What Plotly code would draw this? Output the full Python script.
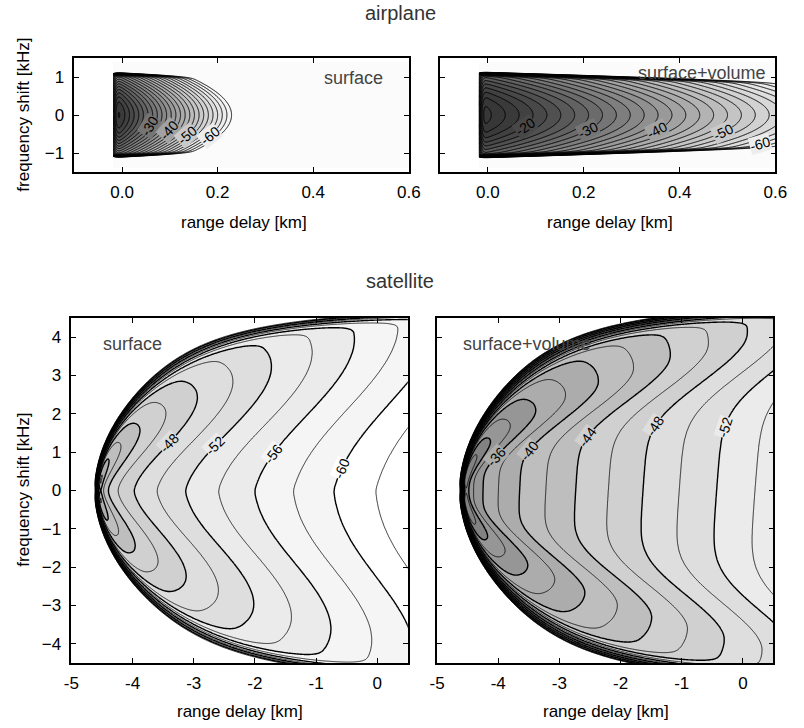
import math
import numpy as np
import plotly.graph_objects as go

# ---------------------------------------------------------------- axes
AIR_DELAY_RANGE = [-0.1, 0.6]
AIR_FREQ_RANGE = [-1.5, 1.5]
AIR_DELAY_TICKS = [0.0, 0.2, 0.4, 0.6]
AIR_FREQ_TICKS = [-1, 0, 1]

SAT_DELAY_RANGE = [-5.0, 0.5]
SAT_FREQ_RANGE = [-4.5, 4.5]
SAT_DELAY_TICKS = [-5, -4, -3, -2, -1, 0]
SAT_FREQ_TICKS = [-4, -3, -2, -1, 0, 1, 2, 3, 4]

# ---------------------------------------------------------------- contour levels (dB): start, end, step
AIR_LINE_LEVELS = [-64, -12, 2]
AIR_FILL_LEVELS = [-64, -16, 2]
SAT_THIN_LEVELS = [-70, -30, 4]
SAT_THICK_LEVELS = [-68, -32, 4]
SAT_FILL_LEVELS = [-60, -32, 4]

# labelled contours and the Doppler row each label sits on
AIR_SURF_LABELS = [-30, -40, -50, -60]
AIR_SURF_LABEL_F = [-0.28, -0.40, -0.53, -0.55]
AIR_SV_LABELS = [-20, -30, -40, -50, -60]
AIR_SV_LABEL_F = [-0.30, -0.40, -0.40, -0.45, -0.75]
SAT_SURF_LABELS = [-48, -52, -56, -60]
SAT_SURF_LABEL_F = [1.25, 1.15, 0.94, 0.55]
SAT_SV_LABELS = [-36, -40, -44, -48, -52]
SAT_SV_LABEL_F = [0.89, 1.02, 1.40, 1.66, 1.63]

# ---------------------------------------------------------------- scattering model parameters
# airplane: dB = C - alpha*r - beta*f^2 + pulse rise + Doppler window (edge narrowing with delay)
AIR_SURF = dict(C=-16.8, alpha=206.0, beta=18.0, r_start=-0.019, r_e=-0.012, sig_e=0.006,
                f_w=1.04, f_slope=0.30, sig_w=0.035)
AIR_SV = dict(C=-13.5, alpha=69.0, beta=13.0, r_start=-0.019, r_e=-0.012, sig_e=0.006,
              f_w=1.04, f_slope=0.30, sig_w=0.035)
# satellite: dB = C - kappa*u - 5 log10(u) + ridge(t) + footprint edge(t, f), t = |f| / sqrt(u)
SAT_SURF = dict(C=-48.1, r0=-4.55, kappa=2.4, gamma=0.15, b_max=4.65, t_peak=1.89,
                s_in=0.77, s_out=0.8, t_edge=2.8, w_edge=0.18, f_lim_top=5.0, f_lim_bot=5.35,
                n_lim=7, sig_f=0.08, sig_r=0.02)
SAT_SV = dict(C=-37.8, r0=-4.55, kappa=2.7, gamma=0.15, b_max=5.0, t_peak=1.89,
              s_in=0.42, s_out=0.8, t_edge=2.8, w_edge=0.18, f_lim_top=5.1, f_lim_bot=5.35,
              n_lim=7, sig_f=0.08, sig_r=0.02)

# ---------------------------------------------------------------- styles
FONT = "Liberation Sans, Arial, Helvetica, sans-serif"
W, H = 804, 728
# panel frames in pixels: left, right, top, bottom
BOX = {
    "air_surf": (68, 411, 58, 172),
    "air_sv": (443, 787, 58, 172),
    "sat_surf": (65, 410, 318, 663),
    "sat_sv": (440, 785, 318, 663),
}

_erfc = np.vectorize(math.erfc)


def gauss_matrix(x, sigma):
    d = (x[:, None] - x[None, :]) / sigma
    k = np.exp(-0.5 * d * d)
    return k / k.sum(axis=1, keepdims=True)


def airplane_field(p):
    r = np.arange(p["r_start"], 0.62 + 1e-9, 0.0015)
    f = np.arange(-1.4, 1.4 + 1e-9, 0.008)
    R = r[None, :]
    F = f[:, None]
    lead = 0.5 * _erfc(-(R - p["r_e"]) / p["sig_e"])
    edge_f = p["f_w"] - p["f_slope"] * np.maximum(R, 0)
    win = 0.5 * _erfc((np.abs(F) - edge_f) / p["sig_w"])
    lin = lead * win * 10 ** ((-p["alpha"] * R - p["beta"] * F ** 2) / 10)
    P = p["C"] + 10 * np.log10(lin + 1e-16)
    return r, f, np.round(P, 2)


def satellite_field(p):
    h = 0.01
    f = np.arange(-6.5, 6.5 + 1e-9, h)
    r = np.arange(-5.6, 1.2 + 1e-9, h)
    U = (r - p["r0"])[None, :]
    F = f[:, None] + 0 * U
    pos = U > 0
    Us = np.where(pos, U, 1.0) + 0 * F
    t = np.abs(F) / np.sqrt(Us)
    d = t - p["t_peak"]
    s = np.where(d < 0, p["s_in"], p["s_out"])
    ridge = p["b_max"] * np.exp(-0.5 * (d / s) ** 2)
    f_lim = np.where(F > 0, p["f_lim_top"], p["f_lim_bot"])
    shrink = np.sqrt(np.clip(1 - (np.abs(F) / f_lim) ** p["n_lim"], 0, 1))
    width = p["w_edge"] * np.maximum(shrink, 0.05) ** 2
    edge = 0.5 * _erfc((t - p["t_edge"] * shrink) / width)
    db = -p["kappa"] * Us + p["gamma"] * F - 5 * np.log10(Us) + ridge
    lin = np.where(pos, 10 ** (db / 10) * edge, 0.0)
    lin = gauss_matrix(f, p["sig_f"]) @ lin
    lin = lin @ gauss_matrix(r, p["sig_r"]).T
    P = p["C"] + 10 * np.log10(lin + 1e-16)
    fi = np.arange(190, 1111, 4)
    ri = np.arange(54, 617, 2)
    return r[ri], f[fi], np.round(P[np.ix_(fi, ri)], 2)


def gray(v):
    v = int(round(v))
    return f"rgb({v},{v},{v})"


def fill_scale(levels, gray_of_band):
    start, end, step = levels
    nc = int(round((end - start) / step)) + 1
    vals = [start - step / 2 + k * step for k in range(nc + 1)]
    return [[k / nc, gray(gray_of_band(v))] for k, v in enumerate(vals)]


def air_gray(v):
    pts = [(-66, 255), (-62, 240), (-56, 220), (-48, 192), (-40, 158), (-30, 112), (-22, 75), (-16, 55)]
    return float(np.interp(v, [q[0] for q in pts], [q[1] for q in pts]))


def sat_gray(v):
    pts = [(-62, 255), (-58, 245), (-54, 235), (-50, 222), (-46, 208), (-42, 190),
           (-38, 172), (-34, 150), (-30, 130)]
    return float(np.interp(v, [q[0] for q in pts], [q[1] for q in pts]))


def fill_trace(x, y, z, ax, levels, gfun):
    start, end, step = levels
    return go.Contour(
        x=x, y=y, z=z, xaxis="x" + ax, yaxis="y" + ax,
        autocontour=False,
        contours=dict(start=start, end=end, size=step, coloring="fill", showlines=False),
        colorscale=fill_scale(levels, gfun), showscale=False,
        line=dict(width=0, smoothing=0.6), hoverinfo="skip",
    )


def line_trace(x, y, z, ax, levels, width):
    start, end, step = levels
    return go.Contour(
        x=x, y=y, z=z, xaxis="x" + ax, yaxis="y" + ax,
        autocontour=False,
        contours=dict(start=start, end=end, size=step, coloring="none", showlines=True),
        line=dict(width=width, color="black", smoothing=0.6),
        showscale=False, hoverinfo="skip",
    )


def label_annotations(r, f, P, ax, box, xr, yr, levels, rows, bgfun, step):
    sx = (box[1] - box[0]) / (xr[1] - xr[0])
    sy = (box[3] - box[2]) / (yr[1] - yr[0])
    dPdf, dPdr = np.gradient(P, f, r)
    out = []
    for lev, fa in zip(levels, rows):
        j = int(np.argmin(np.abs(f - fa)))
        row = P[j]
        k0 = int(np.argmax(row))
        pos = None
        for k in range(k0, len(row) - 1):
            if row[k] >= lev > row[k + 1]:
                t = (row[k] - lev) / (row[k] - row[k + 1])
                pos = (k, r[k] + t * (r[k + 1] - r[k]))
                break
        if pos is None:
            continue
        k, rx = pos
        gx = dPdr[j, k] / sx
        gy = -dPdf[j, k] / sy
        ang = math.degrees(math.atan2(gx, -gy))
        while ang > 90:
            ang -= 180
        while ang <= -90:
            ang += 180
        out.append(dict(
            x=rx, y=f[j], xref="x" + ax, yref="y" + ax, text=str(lev),
            showarrow=False, textangle=ang, bgcolor=gray(bgfun(lev - step / 2)),
            borderpad=0, font=dict(family=FONT, size=14, color="black"),
        ))
    return out


fig = go.Figure()
annotations = []

panels = [
    ("1", "air_surf", airplane_field(AIR_SURF), AIR_DELAY_RANGE, AIR_FREQ_RANGE, AIR_SURF_LABELS, AIR_SURF_LABEL_F),
    ("2", "air_sv", airplane_field(AIR_SV), AIR_DELAY_RANGE, AIR_FREQ_RANGE, AIR_SV_LABELS, AIR_SV_LABEL_F),
    ("3", "sat_surf", satellite_field(SAT_SURF), SAT_DELAY_RANGE, SAT_FREQ_RANGE, SAT_SURF_LABELS, SAT_SURF_LABEL_F),
    ("4", "sat_sv", satellite_field(SAT_SV), SAT_DELAY_RANGE, SAT_FREQ_RANGE, SAT_SV_LABELS, SAT_SV_LABEL_F),
]

for ax, key, (r, f, P), xr, yr, labs, labf in panels:
    box = BOX[key]
    if key.startswith("air"):
        fig.add_trace(fill_trace(r, f, P, ax, AIR_FILL_LEVELS, air_gray))
        fig.add_trace(line_trace(r, f, P, ax, AIR_LINE_LEVELS, 1.0))
        annotations += label_annotations(r, f, P, ax, box, xr, yr, labs, labf, air_gray, 2)
    else:
        fig.add_trace(fill_trace(r, f, P, ax, SAT_FILL_LEVELS, sat_gray))
        fig.add_trace(line_trace(r, f, P, ax, SAT_THIN_LEVELS, 0.8))
        fig.add_trace(line_trace(r, f, P, ax, SAT_THICK_LEVELS, 1.4))
        annotations += label_annotations(r, f, P, ax, box, xr, yr, labs, labf, sat_gray, 4)

axis_common = dict(
    showline=True, linecolor="black", linewidth=1.5, mirror="ticks",
    ticks="inside", ticklen=5, tickwidth=1.3, tickcolor="black",
    showgrid=False, zeroline=False,
    tickfont=dict(family=FONT, size=17, color="black"),
)

layout_axes = {}
for ax, key, _, xr, yr, _, _ in panels:
    l, rgt, t, b = BOX[key]
    air = key.startswith("air")
    xname = "xaxis" if ax == "1" else "xaxis" + ax
    yname = "yaxis" if ax == "1" else "yaxis" + ax
    layout_axes[xname] = dict(
        axis_common, domain=[l / W, rgt / W], range=xr, anchor="y" + ax,
        tickvals=AIR_DELAY_TICKS if air else SAT_DELAY_TICKS,
        ticktext=[f"{v:.1f}" for v in AIR_DELAY_TICKS] if air else [str(v) for v in SAT_DELAY_TICKS],
        ticklabelstandoff=4,
    )
    layout_axes[yname] = dict(
        axis_common, domain=[1 - b / H, 1 - t / H], range=yr, anchor="x" + ax,
        tickvals=AIR_FREQ_TICKS if air else SAT_FREQ_TICKS,
        showticklabels=ax in ("1", "3"),
        ticklabelstandoff=5,
    )

fig.update_layout(**layout_axes)


def text_ann(x, y, text, size, color="black", angle=0, xanchor="center"):
    return dict(x=x / W, y=1 - y / H, xref="paper", yref="paper", text=text,
                showarrow=False, textangle=angle, xanchor=xanchor, yanchor="middle",
                font=dict(family=FONT, size=size, color=color))


annotations += [
    text_ann(402, 13, "airplane", 20, "#333333"),
    text_ann(402, 281, "satellite", 20, "#333333"),
    text_ann(242, 222, "range delay [km]", 17),
    text_ann(617, 222, "range delay [km]", 17),
    text_ann(238, 711, "range delay [km]", 17),
    text_ann(613, 711, "range delay [km]", 17),
    text_ann(15, 115, "frequency shift [kHz]", 17, angle=-90),
    text_ann(15, 490, "frequency shift [kHz]", 17, angle=-90),
    text_ann(387, 78, "surface", 18, "#444444", xanchor="right"),
    text_ann(779, 73, "surface+volume", 18, "#444444", xanchor="right"),
    text_ann(95, 344, "surface", 18, "#444444", xanchor="left"),
    text_ann(465, 344, "surface+volume", 18, "#444444", xanchor="left"),
]

fig.update_layout(
    width=W, height=H, margin=dict(l=0, r=0, t=0, b=0),
    paper_bgcolor="white", plot_bgcolor="white",
    showlegend=False, annotations=annotations,
    font=dict(family=FONT),
)

fig.write_html("out.html")
